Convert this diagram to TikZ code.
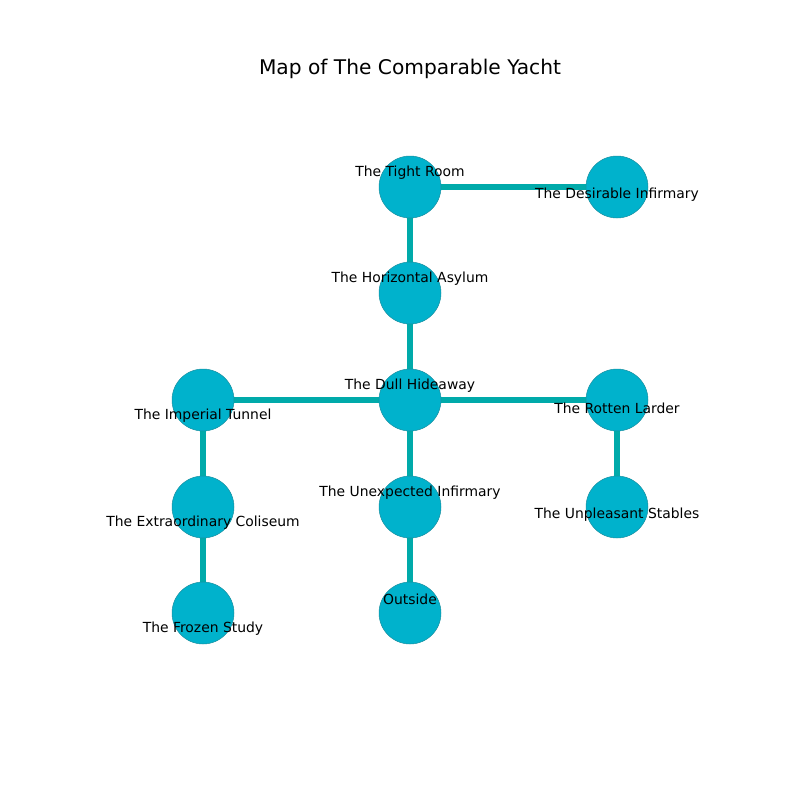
\documentclass[tikz,border=0pt]{standalone}
\usepackage{fontspec}
\setmainfont{DejaVu Sans}
\usetikzlibrary{backgrounds}
\definecolor{roomfill}{HTML}{00B2CC}
\definecolor{roomedge}{HTML}{1A8FA0}
\definecolor{passage}{HTML}{00AAAA}
\begin{document}
\begin{tikzpicture}[x=1pt,y=-1pt,
  room/.style={circle,fill=roomfill,draw=roomedge,line width=0.5pt,minimum size=62pt,inner sep=0pt},
  lbl/.style={font=\fontsize{13.9}{16}\selectfont,inner sep=0pt,anchor=center},
  link/.style={draw=passage,line width=5.5pt}]
\useasboundingbox (0,0) rectangle (800,800);
\node[font=\fontsize{20.2}{24}\selectfont,inner sep=0pt] (title) at (410,69) {Map of The Comparable Yacht};
% rooms
\node[room] (tight) at (410,187) {};
\node[room] (desir) at (617,187) {};
\node[room] (horiz) at (410,293) {};
\node[room] (dull) at (410,400) {};
\node[room] (imper) at (203,400) {};
\node[room] (rotten) at (617,400) {};
\node[room] (unexp) at (410,507) {};
\node[room] (extra) at (203,507) {};
\node[room] (unpl) at (617,507) {};
\node[room] (outside) at (410,613) {};
\node[room] (frozen) at (203,613) {};
% passages, kept beneath the rooms
\begin{scope}[on background layer]
\draw[link] (tight.center) -- (desir.center);
\draw[link] (tight.center) -- (horiz.center);
\draw[link] (horiz.center) -- (dull.center);
\draw[link] (dull.center) -- (imper.center);
\draw[link] (dull.center) -- (rotten.center);
\draw[link] (dull.center) -- (unexp.center);
\draw[link] (unexp.center) -- (outside.center);
\draw[link] (imper.center) -- (extra.center);
\draw[link] (extra.center) -- (frozen.center);
\draw[link] (rotten.center) -- (unpl.center);
\end{scope}
% labels
\node[lbl] (ltight) at (410,173) {The Tight Room};
\node[lbl] (ldesir) at (617,195) {The Desirable Infirmary};
\node[lbl] (lhoriz) at (410,279) {The Horizontal Asylum};
\node[lbl] (ldull) at (410,386) {The Dull Hideaway};
\node[lbl] (limper) at (203,416) {The Imperial Tunnel};
\node[lbl] (lrotten) at (617,408) {The Rotten Larder};
\node[lbl] (lunexp) at (410,493) {The Unexpected Infirmary};
\node[lbl] (lextra) at (203,523) {The Extraordinary Coliseum};
\node[lbl] (lunpl) at (617,515) {The Unpleasant Stables};
\node[lbl] (lout) at (410,599) {Outside};
\node[lbl] (lfrozen) at (203,629) {The Frozen Study};
\end{tikzpicture}
\end{document}
